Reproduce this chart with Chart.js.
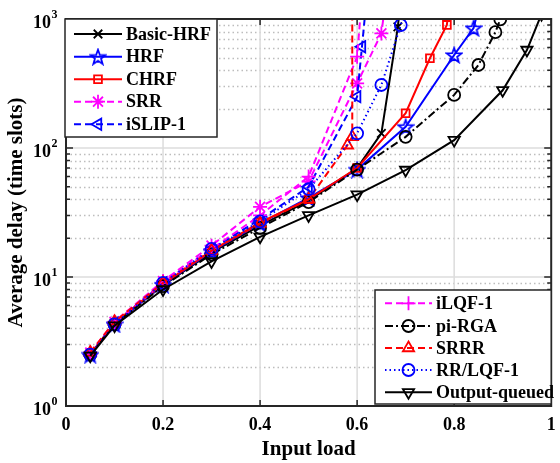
<!DOCTYPE html>
<html>
<head>
<meta charset="utf-8">
<script src="https://cdn.jsdelivr.net/npm/chart.js@4"></script>
<style>
html, body { margin: 0; padding: 0; background: #fff; }
canvas { display: block; }
</style>
</head>
<body>
<canvas id="grafico" width="560" height="463"></canvas>
<script>
/* DADOS */
const xTicks = [0, 0.2, 0.4, 0.6, 0.8, 1];
const xTickLabels = ['0', '0.2', '0.4', '0.6', '0.8', '1'];
const yTicks = [1, 10, 100, 1000];
const yTickExp = ['0', '1', '2', '3'];

const nomes = ['Basic-HRF', 'HRF', 'CHRF', 'SRR', 'iSLIP-1',
               'iLQF-1', 'pi-RGA', 'SRRR', 'RR/LQF-1', 'Output-queued'];

const loadBasicHrf = [0.05, 0.1, 0.2, 0.3, 0.4, 0.5, 0.6, 0.65, 0.684, 0.69];
const delayBasicHrf = [2.5, 4.4, 8.6, 15.5, 25, 39, 70, 130, 870, 1500];

const loadHrf = [0.05, 0.1, 0.2, 0.3, 0.4, 0.5, 0.6, 0.7, 0.8, 0.84, 0.85];
const delayHrf = [2.5, 4.3, 8.7, 15.8, 26, 41, 68, 146, 526, 850, 1200];

const loadChrf = [0.05, 0.1, 0.2, 0.3, 0.4, 0.5, 0.6, 0.7, 0.75, 0.785, 0.79];
const delayChrf = [2.5, 4.4, 8.8, 16, 26.5, 40, 70, 186, 496, 900, 1300];

const loadSrr = [0.05, 0.1, 0.2, 0.3, 0.4, 0.5, 0.6, 0.65, 0.66];
const delaySrr = [2.6, 4.5, 9.3, 17.5, 35, 55, 317, 773, 1500];

const loadIslip = [0.05, 0.1, 0.2, 0.3, 0.4, 0.5, 0.6, 0.61, 0.62];
const delayIslip = [2.5, 4.4, 9, 16.5, 28, 50, 250, 610, 1500];

const loadIlqf = [0.05, 0.1, 0.2, 0.3, 0.4, 0.5, 0.6, 0.61];
const delayIlqf = [2.5, 4.4, 9, 16.5, 30, 60, 510, 1500];

const loadPiRga = [0.05, 0.1, 0.2, 0.3, 0.4, 0.5, 0.6, 0.7, 0.8, 0.85, 0.885, 0.895];
const delayPiRga = [2.5, 4.3, 8.5, 15, 24, 38, 68, 122, 258, 440, 790, 995];

const loadSrrr = [0.05, 0.1, 0.2, 0.3, 0.4, 0.5, 0.58, 0.59, 0.59];
const delaySrrr = [2.6, 4.5, 9, 16, 26, 40, 105, 122, 5000];

const loadRrLqf = [0.05, 0.1, 0.2, 0.3, 0.4, 0.5, 0.6, 0.65, 0.69, 0.7];
const delayRrLqf = [2.5, 4.3, 9, 16.5, 27, 48, 130, 308, 898, 1500];

const loadOq = [0.05, 0.1, 0.2, 0.3, 0.4, 0.5, 0.6, 0.7, 0.8, 0.9, 0.95, 0.98];
const delayOq = [2.45, 4.2, 8, 13.2, 20.5, 30, 43.5, 67.5, 115, 280, 575, 1090];

const loads = [loadBasicHrf, loadHrf, loadChrf, loadSrr, loadIslip,
               loadIlqf, loadPiRga, loadSrrr, loadRrLqf, loadOq];
const delays = [delayBasicHrf, delayHrf, delayChrf, delaySrr, delayIslip,
                delayIlqf, delayPiRga, delaySrrr, delayRrLqf, delayOq];

/* ESTILOS */
const FONTE = '"Liberation Serif", "Times New Roman", serif';
const TRACO = [7, 4];
const PONTO = [1.5, 3];
const TRACO_PONTO = [8, 3, 2, 3];

function criarEstrela(cor) {
    const c = document.createElement('canvas');
    c.width = 18; c.height = 18;
    const g = c.getContext('2d');
    g.beginPath();
    for (let i = 0; i < 10; i++) {
        const r = i % 2 ? 3.2 : 7.8;
        const a = -Math.PI / 2 + i * Math.PI / 5;
        const px = 9 + r * Math.cos(a), py = 9.8 + r * Math.sin(a);
        if (i) g.lineTo(px, py); else g.moveTo(px, py);
    }
    g.closePath();
    g.strokeStyle = cor;
    g.lineWidth = 1.8;
    g.stroke();
    return c;
}

const estilos = [
    { cor: '#000000', dash: [], ponto: 'crossRot', raio: 6, rot: 0 },
    { cor: '#0000ff', dash: [], ponto: criarEstrela('#0000ff'), raio: 7, rot: 0 },
    { cor: '#ff0000', dash: [], ponto: 'rect', raio: 5.5, rot: 0 },
    { cor: '#ff00ff', dash: TRACO, ponto: 'star', raio: 7, rot: 0 },
    { cor: '#0000ff', dash: TRACO, ponto: 'triangle', raio: 6.5, rot: 270 },
    { cor: '#ff00ff', dash: TRACO, ponto: 'cross', raio: 7, rot: 0 },
    { cor: '#000000', dash: TRACO_PONTO, ponto: 'circle', raio: 6, rot: 0 },
    { cor: '#ff0000', dash: TRACO, ponto: 'triangle', raio: 6.5, rot: 0 },
    { cor: '#0000ff', dash: PONTO, ponto: 'circle', raio: 6, rot: 0 },
    { cor: '#000000', dash: [], ponto: 'triangle', raio: 6.5, rot: 180 }
];

const datasets = nomes.map((nome, i) => ({
    label: nome,
    data: loads[i].map((x, k) => ({ x: x, y: delays[i][k] })),
    borderColor: estilos[i].cor,
    borderWidth: 2,
    borderDash: estilos[i].dash,
    pointStyle: estilos[i].ponto,
    pointRadius: estilos[i].raio,
    pointRotation: estilos[i].rot,
    pointBorderWidth: 1.8,
    pointBorderColor: estilos[i].cor,
    pointBackgroundColor: 'rgba(0,0,0,0)',
    tension: 0,
    order: nomes.length - i
}));

/* EIXOS, GRADE E LEGENDAS */
const eixos = {
    id: 'eixos',
    beforeDatasetsDraw(chart) {
        const { ctx, chartArea: a, scales: { x, y } } = chart;
        ctx.save();
        // grade menor (pontilhada)
        ctx.strokeStyle = '#bdbdbd';
        ctx.lineWidth = 1.3;
        ctx.setLineDash([1.5, 3]);
        for (let d = 0; d < 3; d++) {
            for (let k = 2; k <= 9; k++) {
                const py = Math.round(y.getPixelForValue(k * Math.pow(10, d))) + 0.5;
                ctx.beginPath();
                ctx.moveTo(a.left, py);
                ctx.lineTo(a.right, py);
                ctx.stroke();
            }
        }
        // grade maior
        ctx.setLineDash([]);
        ctx.strokeStyle = '#dcdcdc';
        ctx.lineWidth = 1.5;
        xTicks.slice(1, -1).forEach(v => {
            const px = x.getPixelForValue(v);
            ctx.beginPath();
            ctx.moveTo(px, a.top);
            ctx.lineTo(px, a.bottom);
            ctx.stroke();
        });
        yTicks.slice(1, -1).forEach(v => {
            const py = y.getPixelForValue(v);
            ctx.beginPath();
            ctx.moveTo(a.left, py);
            ctx.lineTo(a.right, py);
            ctx.stroke();
        });
        ctx.restore();
    },
    afterDatasetsDraw(chart) {
        const { ctx, chartArea: a, scales: { x, y } } = chart;
        ctx.save();
        ctx.strokeStyle = '#262626';
        ctx.fillStyle = '#000';
        ctx.lineWidth = 1.5;
        // marcas
        xTicks.forEach(v => {
            const px = x.getPixelForValue(v);
            ctx.beginPath();
            ctx.moveTo(px, a.bottom); ctx.lineTo(px, a.bottom - 6);
            ctx.moveTo(px, a.top); ctx.lineTo(px, a.top + 6);
            ctx.stroke();
        });
        for (let d = 0; d < 3; d++) {
            for (let k = 1; k <= 9; k++) {
                const py = y.getPixelForValue(k * Math.pow(10, d));
                const t = k === 1 ? 7 : 4;
                ctx.beginPath();
                ctx.moveTo(a.left, py); ctx.lineTo(a.left + t, py);
                ctx.moveTo(a.right, py); ctx.lineTo(a.right - t, py);
                ctx.stroke();
            }
        }
        // caixa
        ctx.lineWidth = 2;
        ctx.strokeRect(a.left, a.top, a.right - a.left, a.bottom - a.top);

        // rótulos
        ctx.font = 'bold 18px ' + FONTE;
        ctx.textAlign = 'center';
        ctx.textBaseline = 'middle';
        xTicks.forEach((v, i) => {
            ctx.fillText(xTickLabels[i], x.getPixelForValue(v), a.bottom + 19);
        });
        yTicks.forEach((v, i) => {
            const py = y.getPixelForValue(v);
            ctx.font = 'bold 18px ' + FONTE;
            ctx.textAlign = 'right';
            ctx.fillText('10', 51, py + 4);
            ctx.font = 'bold 12px ' + FONTE;
            ctx.textAlign = 'left';
            ctx.fillText(yTickExp[i], 51.5, py - 4);
        });

        // títulos
        ctx.font = 'bold 21px ' + FONTE;
        ctx.textAlign = 'center';
        ctx.fillText('Input load', (a.left + a.right) / 2, 450);
        ctx.save();
        ctx.translate(17, (a.top + a.bottom) / 2);
        ctx.rotate(-Math.PI / 2);
        ctx.fillText('Average delay (time slots)', 0, 0);
        ctx.restore();

        // legendas
        desenharLegenda(ctx, [0, 1, 2, 3, 4], 65, 19, 217, 137, 74, 122, 126, [34, 56.7, 79.3, 101.7, 124.3]);
        desenharLegenda(ctx, [5, 6, 7, 8, 9], 375, 290, a.right, 404, 385, 432, 436, [303.3, 326, 348, 370, 392.3]);
        ctx.restore();
    }
};

function desenharLegenda(ctx, itens, x0, y0, x1, y1, l0, l1, tx, linhas) {
    ctx.save();
    ctx.fillStyle = '#fff';
    ctx.fillRect(x0, y0, x1 - x0, y1 - y0);
    ctx.strokeStyle = '#262626';
    ctx.lineWidth = 1.5;
    ctx.strokeRect(x0, y0, x1 - x0, y1 - y0);
    itens.forEach((i, n) => {
        const e = estilos[i];
        const py = linhas[n];
        ctx.strokeStyle = e.cor;
        ctx.lineWidth = 2;
        ctx.setLineDash(e.dash);
        ctx.beginPath();
        ctx.moveTo(l0, py);
        ctx.lineTo(l1, py);
        ctx.stroke();
        ctx.setLineDash([]);
        ctx.fillStyle = 'rgba(0,0,0,0)';
        ctx.lineWidth = 1.8;
        Chart.helpers.drawPoint(ctx, {
            pointStyle: e.ponto, radius: e.raio, rotation: e.rot, borderWidth: 1.8
        }, (l0 + l1) / 2, py);
        ctx.fillStyle = '#000';
        ctx.font = 'bold 18px ' + FONTE;
        ctx.textAlign = 'left';
        ctx.textBaseline = 'middle';
        ctx.fillText(nomes[i], tx, py + 1);
    });
    ctx.restore();
}

/* GRÁFICO */
new Chart(document.getElementById('grafico'), {
    type: 'line',
    data: { datasets },
    options: {
        responsive: false,
        animation: false,
        layout: { padding: { left: 66, right: 3, top: 19, bottom: 57 } },
        plugins: { legend: { display: false }, tooltip: { enabled: false } },
        scales: {
            x: { type: 'linear', min: 0, max: 1, display: false },
            y: { type: 'logarithmic', min: 1, max: 1000, display: false }
        }
    },
    plugins: [eixos]
});
</script>
</body>
</html>
